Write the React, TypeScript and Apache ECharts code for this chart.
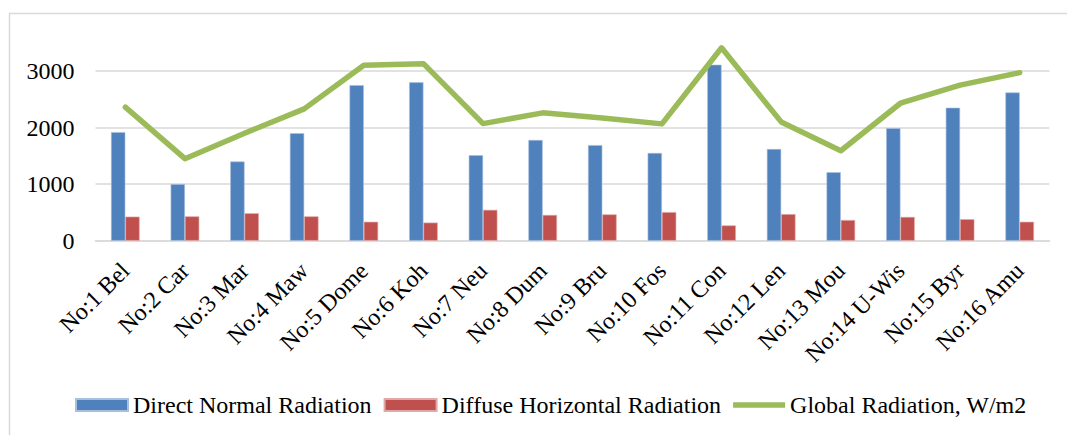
import React, { useEffect, useRef } from "react";
import * as echarts from "echarts";

const categories = [
  "No:1 Bel", "No:2 Car", "No:3 Mar", "No:4 Maw", "No:5 Dome", "No:6 Koh",
  "No:7 Neu", "No:8 Dum", "No:9 Bru", "No:10 Fos", "No:11 Con", "No:12 Len",
  "No:13 Mou", "No:14 U-Wis", "No:15 Byr", "No:16 Amu",
];
const directNormal = [1920, 1000, 1400, 1900, 2750, 2800, 1510, 1780, 1690, 1550, 3110, 1620, 1210, 1990, 2350, 2620];
const diffuseHorizontal = [425, 430, 485, 430, 335, 320, 545, 455, 465, 505, 270, 470, 365, 420, 380, 335];
const globalRadiation = [2360, 1450, 1900, 2330, 3100, 3130, 2070, 2260, 2170, 2065, 3410, 2100, 1590, 2430, 2750, 2970];

const FONT = "'Liberation Serif', 'Times New Roman', serif";

export default function App() {
  const ref = useRef<HTMLDivElement>(null);
  useEffect(() => {
    document.body.style.margin = "0";
    const chart = echarts.init(ref.current!, null, { renderer: "svg" });
    chart.setOption({
      animation: false,
      backgroundColor: "#ffffff",
      textStyle: { fontFamily: FONT },
      graphic: [
        {
          type: "rect",
          shape: { x: 9.5, y: 13.5, width: 1070, height: 440 },
          style: { fill: "none", stroke: "#D9D9D9", lineWidth: 1.5 },
          silent: true,
        },
      ],
      grid: { left: 95.5, right: 17.5, top: 42.7, bottom: 194.3, containLabel: false },
      legend: {
        left: 75,
        top: 393,
        padding: 0,
        itemWidth: 52,
        itemHeight: 12,
        itemGap: 12,
        textStyle: { fontFamily: FONT, fontSize: 24, color: "#000" },
        data: [
          { name: "Direct Normal Radiation", icon: "rect" },
          { name: "Diffuse Horizontal Radiation", icon: "rect" },
          { name: "Global Radiation, W/m2", icon: "path://M0,0H52V5.5H0Z" },
        ],
      },
      xAxis: {
        type: "category",
        data: categories,
        axisLine: { show: true, lineStyle: { color: "#D9D9D9", width: 1.5 } },
        axisTick: { show: false },
        axisLabel: {
          interval: 0,
          rotate: 45,
          margin: 26,
          color: "#000",
          fontFamily: FONT,
          fontSize: 24,
        },
      },
      yAxis: {
        type: "value",
        min: 0,
        max: 3500,
        interval: 1000,
        axisLine: { show: false },
        axisTick: { show: false },
        axisLabel: {
          color: "#000",
          fontFamily: FONT,
          fontSize: 24,
          margin: 21,
          showMaxLabel: false,
          formatter: (v: number) => String(v),
        },
        splitLine: { show: true, showMaxLine: false, lineStyle: { color: "#D9D9D9", width: 1.5 } },
      },
      series: [
        {
          name: "Direct Normal Radiation",
          type: "bar",
          data: directNormal,
          barWidth: 14.3,
          barGap: "0%",
          itemStyle: { color: "#4F81BD", borderColor: "#A7C0DE", borderWidth: 0.6 },
        },
        {
          name: "Diffuse Horizontal Radiation",
          type: "bar",
          data: diffuseHorizontal,
          barWidth: 14.3,
          barGap: "0%",
          itemStyle: { color: "#C0504D", borderColor: "#E0A8A6", borderWidth: 0.6 },
        },
        {
          name: "Global Radiation, W/m2",
          type: "line",
          data: globalRadiation,
          symbol: "none",
          lineStyle: { color: "#9BBB59", width: 5.5, cap: "round", join: "round" },
          itemStyle: { color: "#9BBB59" },
        },
      ],
    });
    return () => chart.dispose();
  }, []);
  return <div ref={ref} style={{ width: 1067, height: 435 }} />;
}
